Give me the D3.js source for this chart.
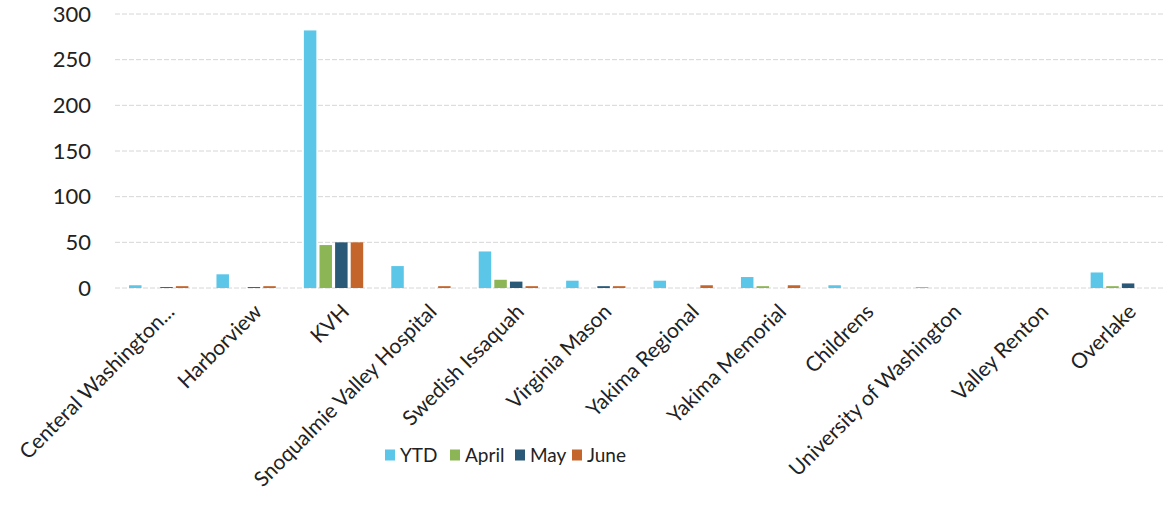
<!DOCTYPE html>
<html>
<head>
<meta charset="utf-8">
<script src="https://cdn.jsdelivr.net/npm/d3@7"></script>
<style>
  body { margin: 0; background: #fff; }
  svg { display: block; font-family: Lato, "Open Sans", sans-serif; }
</style>
</head>
<body>
<svg></svg>
<script>
// hospitals along the x axis
var hospitals = ["Centeral Washington...", "Harborview", "KVH", "Snoqualmie Valley Hospital",
  "Swedish Issaquah", "Virginia Mason", "Yakima Regional", "Yakima Memorial",
  "Childrens", "University of Washington", "Valley Renton", "Overlake"];

var seriesNames = ["YTD", "April", "May", "June"];

// values
var ytd   = [3, 15, 282, 24, 40, 8, 8, 12, 3, 1, 0, 17];
var april = [0, 0, 47, 0, 9, 0, 0, 2, 0, 0, 0, 2];
var may   = [1, 1, 50, 0, 7, 2, 0, 0, 0, 0, 0, 5];
var june  = [2, 2, 50, 2, 2, 2, 3, 3, 0, 0, 0, 0];

var yTicks = [0, 50, 100, 150, 200, 250, 300];
var colors = ["#5bc6e8", "#8cb555", "#2a5877", "#c4662c"];

const FONT = 'Lato, "Open Sans", sans-serif';
const W = 1172, H = 511;
const margin = { top: 14, right: 8, bottom: 223, left: 115 };
const iw = W - margin.left - margin.right, ih = H - margin.top - margin.bottom;

var svg = d3.select('svg').attr('width', W).attr('height', H);
var g = svg.append('g').attr('transform', `translate(${margin.left},${margin.top})`);

var x = d3.scaleBand().domain(hospitals).range([0, iw]).paddingInner(0).paddingOuter(0);
var x1 = d3.scaleBand().domain(seriesNames).range([0, x.bandwidth()]).paddingInner(0.2).paddingOuter(0.9);
var y = d3.scaleLinear().domain([0, 300]).range([ih, 0]);

// gridlines
g.selectAll('line.grid')
  .data(yTicks)
  .enter().append('line')
  .attr('x1', 0).attr('x2', iw)
  .attr('y1', d => y(d)).attr('y2', d => y(d))
  .style('stroke', '#d6d6d6')
  .style('stroke-width', 1)
  .style('stroke-dasharray', '5,2');

// y labels
var yAxis = g.append('g').call(d3.axisLeft(y).tickValues(yTicks).tickSize(0).tickPadding(24));
yAxis.attr('font-size', 22).attr('font-family', FONT);
yAxis.select('.domain').remove();
yAxis.selectAll('text').style('fill', '#222');

// bars
var rows = hospitals.map((h, i) => ({ name: h, vals: [ytd[i], april[i], may[i], june[i]] }));
var groups = g.selectAll('g.grp')
  .data(rows)
  .enter().append('g')
  .attr('transform', d => `translate(${x(d.name)},0)`);

groups.selectAll('rect')
  .data(d => d.vals.map((v, k) => ({ key: seriesNames[k], v: v, k: k })))
  .enter().append('rect')
  .attr('x', d => x1(d.key))
  .attr('width', x1.bandwidth())
  .attr('y', d => y(d.v))
  .attr('height', d => ih - y(d.v))
  .style('fill', d => colors[d.k]);

// x labels
var xAxis = g.append('g').attr('transform', `translate(0,${ih})`)
  .call(d3.axisBottom(x).tickSize(0).tickPadding(0));
xAxis.attr('font-size', 21).attr('font-family', FONT);
xAxis.select('.domain').remove();
xAxis.selectAll('text')
  .style('fill', '#222')
  .attr('text-anchor', 'end')
  .attr('dy', 0)
  .attr('transform', 'translate(17,25) rotate(-45)');

// legend
var legend = svg.append('g').attr('transform', 'translate(385,455)')
  .attr('font-family', FONT).attr('font-size', 19);
var lx = [0, 65, 130, 187];
seriesNames.forEach((s, k) => {
  var it = legend.append('g').attr('transform', `translate(${lx[k]},0)`);
  it.append('rect').attr('x', 0).attr('y', -5.5).attr('width', 10).attr('height', 11).style('fill', colors[k]);
  it.append('text').attr('x', 15).attr('y', 7).text(s).style('fill', '#222');
});
</script>
</body>
</html>
